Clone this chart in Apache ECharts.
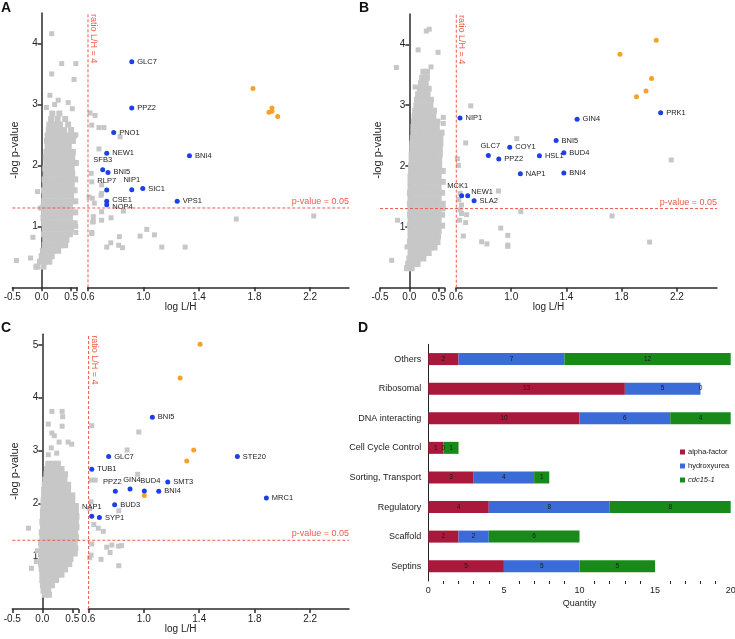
<!DOCTYPE html>
<html><head><meta charset="utf-8">
<script src="https://cdn.jsdelivr.net/npm/echarts@6/dist/echarts.min.js"></script>
<style>html,body{margin:0;padding:0;background:#fff}#c{width:735px;height:639px}</style>
</head><body><div id="c"></div>
<script>
// ---------- reference lines ----------
const P_LINE = -Math.log10(0.05);
const RATIO_LINE = Math.log10(4);

// ---------- tick labels ----------
const xTicksLeft = [-0.5, 0, 0.5];
const xTickMarksLeft = [-0.5, 0, 0.5, 0.6];
const xTicksRight = [0.6, 1.0, 1.4, 1.8, 2.2];

// ---------- Panel A ----------
const blueA = [['GLC7',0.917,3.70],['PPZ2',0.917,2.94],['PNO1',0.787,2.54],['NEW1',0.737,2.20],['BNI4',1.332,2.16],
  ['SFB3',0.708,1.93],['BNI5',0.746,1.885],['RLP7',0.737,1.595],['NIP1',0.917,1.60],['SIC1',0.996,1.62],
  ['VPS1',1.244,1.41],['CSE1',0.737,1.41],['NOP4',0.737,1.355]];
const orangeA = [[1.789,3.26],[1.926,2.94],[1.926,2.89],[1.904,2.87],[1.967,2.80]];
const grayRowsA = [
 [2.85,[0.18,0.3]],[2.76,[0.16,0.27,0.4]],[2.67,[0.13,0.22,0.31,0.45]],[2.58,[0.12,0.2,0.29,0.38,0.5]],
 [2.49,[0.1,0.19,0.28,0.37,0.46,0.55]],[2.40,[0.09,0.18,0.27,0.36,0.45,0.53]],[2.31,[0.1,0.19,0.28,0.37,0.46]],
 [2.22,[0.08,0.17,0.26,0.35,0.44,0.53]],[2.13,[0.07,0.16,0.25,0.34,0.43,0.52]],[2.04,[0.08,0.17,0.26,0.35,0.44,0.53,0.58]],
 [1.95,[0.06,0.15,0.24,0.33,0.42,0.51]],[1.86,[0.07,0.16,0.25,0.34,0.43,0.52]],[1.77,[0.05,0.14,0.23,0.32,0.41,0.5,0.57]],
 [1.68,[0.06,0.15,0.24,0.33,0.42,0.51]],[1.59,[0.04,0.13,0.22,0.31,0.4,0.49,0.56]],[1.50,[0.05,0.14,0.23,0.32,0.41,0.5]],
 [1.41,[0.04,0.13,0.22,0.31,0.4,0.49,0.57]],[1.32,[0.03,0.12,0.21,0.3,0.39,0.48]],[1.23,[0.04,0.13,0.22,0.31,0.4,0.49,0.57]],
 [1.14,[0.03,0.12,0.21,0.3,0.39,0.48]],[1.05,[0.04,0.13,0.22,0.31,0.4,0.49,0.56]],[0.96,[0.05,0.14,0.23,0.32,0.41,0.5]],
 [0.87,[0.04,0.13,0.22,0.31,0.4,0.48]],[0.78,[0.06,0.15,0.24,0.33,0.42]],[0.69,[0.05,0.14,0.23,0.32,0.4]],
 [0.60,[0.02,0.1,0.19,0.28]],[0.51,[0.0,0.08,0.17]],[0.42,[-0.03,0.06,0.13]],[0.34,[-0.08,0.03]]];
const grayExtraA = [[0.17,4.16],[0.34,3.67],[0.58,3.67],[0.17,3.50],[0.55,3.41],[0.14,3.15],[0.28,3.07],[0.45,3.03],
 [0.52,2.93],[0.08,2.95],[0.22,3.0],[-0.07,1.57],[-0.15,0.82],[-0.43,0.44],[-0.19,0.48],[-0.1,0.33],[0.58,1.0],
 [0.58,2.5],[-0.02,1.3],[0.58,0.9],
 [0.617,2.86],[0.653,2.82],[0.629,2.66],[0.681,2.62],[0.717,2.62],[0.681,2.27],[0.833,2.47],[0.625,1.87],[0.629,1.73],
 [0.70,1.68],[0.70,1.54],[0.61,1.48],[0.633,1.46],[0.648,1.38],[0.696,1.51],[0.70,1.24],[0.64,1.16],[0.636,1.07],
 [0.629,0.90],[0.768,1.14],[0.857,1.25],[0.766,0.73],[0.737,0.66],[0.828,0.83],[0.823,0.69],[0.85,0.65],[0.977,0.84],
 [1.025,0.95],[1.08,0.86],[1.133,0.66],[1.301,0.66],[1.669,1.12],[2.226,1.17],[0.70,1.10],[0.64,1.08],[0.63,0.88]];

// ---------- Panel B ----------
const blueB = [['NIP1',0.629,2.79],['GIN4',1.477,2.77],['PRK1',2.082,2.875],['BNI5',1.325,2.42],['COY1',0.989,2.31],
  ['GLC7',0.834,2.175],['PPZ2',0.91,2.115],['HSL1',1.204,2.17],['BUD4',1.381,2.22],['NAP1',1.066,1.875],
  ['BNI4',1.381,1.885],['MCK1',0.641,1.51],['NEW1',0.685,1.51],['SLA2',0.731,1.43]];
const orangeB = [[1.787,3.84],[2.05,4.07],[2.016,3.44],[1.976,3.235],[1.907,3.14]];
const grayRowsB = [
 [3.55,[0.24,0.3]],[3.45,[0.22,0.3]],[3.36,[0.2,0.28]],[3.27,[0.18,0.26,0.33]],[3.18,[0.15,0.23,0.31]],
 [3.09,[0.13,0.21,0.29,0.37]],[3.00,[0.12,0.2,0.28,0.36]],[2.91,[0.1,0.18,0.26,0.34,0.42]],[2.82,[0.09,0.17,0.25,0.33,0.41]],
 [2.73,[0.08,0.16,0.24,0.32,0.4,0.48]],[2.64,[0.07,0.15,0.23,0.31,0.39,0.47]],[2.55,[0.07,0.15,0.23,0.31,0.39,0.47,0.55]],
 [2.46,[0.06,0.14,0.22,0.3,0.38,0.46,0.53]],[2.37,[0.05,0.13,0.21,0.29,0.37,0.45,0.53]],[2.28,[0.05,0.13,0.21,0.29,0.37,0.45,0.52]],
 [2.19,[0.04,0.12,0.2,0.28,0.36,0.44,0.52]],[2.10,[0.04,0.12,0.2,0.28,0.36,0.44,0.51]],[2.01,[0.03,0.11,0.19,0.27,0.35,0.43,0.51]],
 [1.92,[0.03,0.11,0.19,0.27,0.35,0.43,0.5,0.57]],[1.83,[0.02,0.1,0.18,0.26,0.34,0.42,0.5]],
 [1.74,[0.02,0.1,0.18,0.26,0.34,0.42,0.5,0.57]],[1.65,[0.02,0.1,0.18,0.26,0.34,0.42,0.5]],
 [1.56,[0.01,0.09,0.17,0.25,0.33,0.41,0.49,0.56]],[1.47,[0.02,0.1,0.18,0.26,0.34,0.42,0.5]],
 [1.38,[0.01,0.09,0.17,0.25,0.33,0.41,0.49,0.57]],[1.29,[0.02,0.1,0.18,0.26,0.34,0.42,0.5]],
 [1.20,[0.01,0.09,0.17,0.25,0.33,0.41,0.49,0.56]],[1.11,[0.02,0.1,0.18,0.26,0.34,0.42,0.5]],
 [1.02,[0.01,0.09,0.17,0.25,0.33,0.41,0.49,0.56]],[0.93,[0.02,0.1,0.18,0.26,0.34,0.42,0.5]],
 [0.84,[0.02,0.1,0.18,0.26,0.34,0.42,0.49]],[0.75,[0.01,0.09,0.17,0.25,0.33,0.41,0.48]],
 [0.66,[0.03,0.11,0.19,0.27,0.35,0.43]],[0.57,[0.02,0.1,0.18,0.26,0.33]],[0.48,[0.0,0.08,0.16,0.24]],
 [0.39,[-0.02,0.06,0.14]],[0.32,[-0.04,0.04]]];
const grayExtraB = [[0.29,4.22],[0.34,4.25],[0.15,3.91],[0.49,3.87],[-0.22,3.62],[0.37,3.63],[0.31,3.55],[0.1,3.3],
 [-0.2,1.11],[-0.3,0.45],[-0.04,0.67],[0.58,2.8],[0.58,2.7],[0.58,1.3],
 [0.707,2.99],[0.67,2.38],[1.04,2.45],[0.907,1.59],[1.069,1.25],[0.64,1.36],[0.64,1.22],[0.625,1.11],[0.924,0.98],
 [0.653,0.85],[0.67,1.07],[0.786,0.755],[0.824,0.72],[0.975,0.86],[0.975,0.70],[0.975,0.68],[1.73,1.18],[2.002,0.75],
 [2.159,2.10],[0.62,1.45],[0.63,1.55],[0.61,2.12],[0.617,2.01],[0.677,1.2],[0.63,1.28]];

// ---------- Panel C ----------
const blueC = [['BNI5',1.062,3.63],['GLC7',0.747,2.885],['STE20',1.675,2.885],['TUB1',0.625,2.645],['SMT3',1.173,2.405],
  ['PPZ2',0.795,2.23],['GIN4',0.901,2.27],['BUD4',1.004,2.235],['BNI4',1.108,2.23],['MRC1',1.884,2.10],
  ['BUD3',0.79,1.975],['NAP1',0.625,1.755],['SYP1',0.68,1.73]];
const orangeC = [[1.406,5.01],[1.262,4.375],[1.36,3.01],[1.31,2.80],[1.004,2.15]];
const grayRowsC = [
 [2.75,[0.1,0.18,0.26]],[2.65,[0.08,0.16,0.24,0.32]],[2.55,[0.07,0.15,0.23,0.31,0.38]],[2.45,[0.05,0.13,0.21,0.29,0.37]],
 [2.35,[0.04,0.12,0.2,0.28,0.36,0.43]],[2.25,[0.03,0.11,0.19,0.27,0.35,0.43]],[2.15,[0.03,0.11,0.19,0.27,0.35,0.43,0.5]],
 [2.05,[0.02,0.1,0.18,0.26,0.34,0.42,0.5]],[1.95,[0.02,0.1,0.18,0.26,0.34,0.42,0.5,0.56]],
 [1.85,[0.01,0.09,0.17,0.25,0.33,0.41,0.49,0.56]],[1.75,[0.01,0.09,0.17,0.25,0.33,0.41,0.49,0.57]],
 [1.65,[0.0,0.08,0.16,0.24,0.32,0.4,0.48,0.56]],[1.55,[0.01,0.09,0.17,0.25,0.33,0.41,0.49,0.57]],
 [1.45,[-0.01,0.07,0.15,0.23,0.31,0.39,0.47,0.55]],[1.35,[0.0,0.08,0.16,0.24,0.32,0.4,0.48,0.56]],
 [1.25,[-0.02,0.06,0.14,0.22,0.3,0.38,0.46,0.54]],[1.15,[-0.01,0.07,0.15,0.23,0.31,0.39,0.47,0.55]],
 [1.05,[-0.02,0.06,0.14,0.22,0.3,0.38,0.46,0.54]],[0.95,[-0.01,0.07,0.15,0.23,0.31,0.39,0.47]],
 [0.85,[-0.02,0.06,0.14,0.22,0.3,0.38,0.45]],[0.75,[-0.01,0.07,0.15,0.23,0.31,0.38]],
 [0.65,[0.0,0.08,0.16,0.24,0.32]],[0.55,[0.0,0.08,0.16,0.23]],[0.45,[0.01,0.09,0.16]],[0.35,[0.02,0.1]],[0.27,[0.04,0.11]]];
const grayExtraC = [[0.16,3.74],[0.33,3.74],[0.34,3.64],[0.1,3.5],[0.33,3.46],[0.16,3.33],[0.2,3.28],[0.28,3.16],
 [0.43,3.16],[0.49,3.12],[0.1,2.92],[0.15,3.05],[0.24,2.95],[-0.23,1.53],[-0.18,0.77],[-0.1,0.9],[-0.08,1.1],
 [0.625,3.47],[0.964,3.35],[0.88,3.01],[0.956,2.55],[0.62,2.44],[0.65,2.44],[0.62,2.03],[0.82,1.86],[0.708,1.47],
 [0.672,1.53],[0.625,1.23],[0.733,1.17],[0.77,1.21],[0.817,1.19],[0.84,1.2],[0.757,1.07],[0.692,0.94],[0.82,0.82],
 [0.62,1.02],[0.64,1.6],[0.61,0.97],[0.61,1.9]];

// ---------- Panel D ----------
const categoriesD = ['Others','Ribosomal','DNA interacting','Cell Cycle Control','Sorting, Transport','Regulatory','Scaffold','Septins'];
const alphaFactor = [2,13,10,1,3,4,2,5];
const hydroxyurea = [7,5,6,0,4,8,2,5];
const cdc15 = [12,0,4,1,1,8,6,5];
const quantityTicks = [0,5,10,15,20];

// ---------- styles ----------
const FONT = 'Liberation Sans, Arial, sans-serif';
const RED = '#ee5a48';
const GRAY = '#c7c7c7';
const BLUE = '#1d3fe6';
const ORANGE = '#f5a228';
const BAR_COLORS = ['#a8193c', '#3b6bd6', '#178a1a'];
const labelStyles = {
  A: {SFB3:{position:'top'}, RLP7:{position:'top'}, NIP1:{position:'top'}, NOP4:{offset:[0,2]}, CSE1:{offset:[0,-1]}},
  B: {GLC7:{position:'top',offset:[2,0]}, MCK1:{position:'top',offset:[-4,0]}, NEW1:{offset:[-2,-4]}},
  C: {NAP1:{position:'top'}, PPZ2:{position:'top',offset:[-3,0]}, GIN4:{position:'top',offset:[2,0]}, BUD4:{position:'top',offset:[6,0]}}
};

const panels = [
  {key:'A', blue:blueA, orange:orangeA, rows:grayRowsA, extra:grayExtraA, yMax:4.5, xMax:2.48,
   left:{left:12.3, width:64.7}, right:{left:87.7, width:261.3}, top:13, height:274.3, yTicks:[1,2,3,4], yTitle:[15,150]},
  {key:'B', blue:blueB, orange:orangeB, rows:grayRowsB, extra:grayExtraB, yMax:4.5, xMax:2.49,
   left:{left:380, width:64.5}, right:{left:456, width:261}, top:14, height:273.7, yTicks:[1,2,3,4], yTitle:[378,150]},
  {key:'C', blue:blueC, orange:orangeC, rows:grayRowsC, extra:grayExtraC, yMax:5.2, xMax:2.48,
   left:{left:12.3, width:66}, right:{left:88.3, width:260.7}, top:334.3, height:274.7, yTicks:[1,2,3,4,5], yTitle:[15,471]}
];
const X_LEFT_MIN = -0.5, X_LEFT_MAX = 0.6;

const grids = [], xAxes = [], yAxes = [], series = [];
const axisLineStyle = {color:'#2b2b2b', width:1.5};
const labelText = {fontSize:10, color:'#222', fontFamily:FONT};

panels.forEach((p, i) => {
  const L = 2*i, R = 2*i+1;
  grids.push({left:p.left.left, width:p.left.width, top:p.top, height:p.height, outerBoundsMode:'none'});
  grids.push({left:p.right.left, width:p.right.width, top:p.top, height:p.height, outerBoundsMode:'none'});
  xAxes.push({gridIndex:L, type:'value', min:X_LEFT_MIN, max:X_LEFT_MAX, splitLine:{show:false},
    axisLine:{onZero:false, lineStyle:axisLineStyle},
    axisTick:{length:4, customValues:xTickMarksLeft, lineStyle:axisLineStyle},
    axisLabel:Object.assign({customValues:xTicksLeft, margin:5, formatter:v=>v.toFixed(1)}, labelText)});
  xAxes.push({gridIndex:R, type:'value', min:0.6, max:p.xMax, splitLine:{show:false},
    axisLine:{onZero:false, lineStyle:axisLineStyle},
    axisTick:{length:4, customValues:xTicksRight, lineStyle:axisLineStyle},
    axisLabel:Object.assign({customValues:xTicksRight, margin:5, formatter:v=>v.toFixed(1)}, labelText)});
  // y axis sits at x = 0 of the left scale
  const zeroOffset = -p.left.width * (0 - X_LEFT_MIN) / (X_LEFT_MAX - X_LEFT_MIN);
  yAxes.push({gridIndex:L, type:'value', min:0, max:p.yMax, splitLine:{show:false}, position:'left', offset:zeroOffset,
    axisLine:{onZero:false, lineStyle:axisLineStyle},
    axisTick:{length:4, customValues:p.yTicks, lineStyle:axisLineStyle},
    axisLabel:Object.assign({customValues:p.yTicks, margin:4}, labelText)});
  yAxes.push({gridIndex:R, type:'value', min:0, max:p.yMax, show:false});

  const blob = [];
  p.rows.forEach(r => r[1].forEach(x => blob.push([x, r[0]])));
  const grayStyle = {type:'scatter', symbol:'rect', itemStyle:{color:GRAY, opacity:1}, silent:true, z:1};
  series.push(Object.assign({xAxisIndex:L, yAxisIndex:L, data:blob, symbolSize:6}, grayStyle));
  series.push(Object.assign({xAxisIndex:L, yAxisIndex:L, data:p.extra.filter(pt => pt[0] < 0.6), symbolSize:5}, grayStyle));
  series.push(Object.assign({xAxisIndex:R, yAxisIndex:R, data:p.extra.filter(pt => pt[0] >= 0.6), symbolSize:5}, grayStyle));
  series.push({type:'scatter', xAxisIndex:R, yAxisIndex:R, symbol:'circle', symbolSize:5,
    itemStyle:{color:ORANGE, opacity:1}, data:p.orange, z:3, silent:true});
  const ls = labelStyles[p.key];
  series.push({type:'scatter', xAxisIndex:R, yAxisIndex:R, symbol:'circle', symbolSize:5,
    itemStyle:{color:BLUE, opacity:1}, z:4, silent:true,
    label:{show:true, position:'right', distance:3, formatter:'{b}', fontSize:7.5, color:'#222', fontFamily:FONT},
    data:p.blue.map(b => {
      const item = {name:b[0], value:[b[1], b[2]]};
      if (ls[b[0]]) item.label = ls[b[0]];
      return item;
    })});
});

// Panel D
grids.push({left:428.3, width:302.4, top:344.3, height:236.7, outerBoundsMode:'none'});
xAxes.push({gridIndex:6, type:'value', min:0, max:20, interval:5, splitLine:{show:false},
  axisLine:{lineStyle:{color:'#222', width:1}},
  axisTick:{length:4, lineStyle:{color:'#222'}},
  minorTick:{show:true, splitNumber:5, length:3, lineStyle:{color:'#222'}},
  axisLabel:{fontSize:9, color:'#222', margin:5, fontFamily:FONT, customValues:quantityTicks},
  name:'Quantity', nameLocation:'middle', nameGap:18, nameTextStyle:{fontSize:9, color:'#222', fontFamily:FONT}});
yAxes.push({gridIndex:6, type:'category', data:categoriesD, inverse:true,
  axisLine:{lineStyle:{color:'#222', width:1}},
  axisTick:{length:4, lineStyle:{color:'#222'}},
  axisLabel:{fontSize:9, color:'#222', margin:7, fontFamily:FONT}});
const barSeries = [['alpha-factor', alphaFactor], ['hydroxyurea', hydroxyurea], ['cdc15-1', cdc15]];
barSeries.forEach((s, k) => {
  series.push({type:'bar', name:s[0], xAxisIndex:6, yAxisIndex:6, stack:'q', barWidth:12, data:s[1],
    itemStyle:{color:BAR_COLORS[k]}, silent:true,
    label:{show:true, position:'inside', fontSize:6.5, color:'#1a1a1a', fontFamily:FONT, formatter:'{c}'}});
});

const chart = echarts.init(document.getElementById('c'), null, {renderer:'canvas'});
chart.setOption({
  animation:false,
  textStyle:{fontFamily:FONT},
  grid:grids, xAxis:xAxes, yAxis:yAxes, series:series,
  legend:{orient:'vertical', left:675, top:443, itemWidth:5, itemHeight:5, itemGap:6, icon:'rect',
    data:['alpha-factor','hydroxyurea','cdc15-1'],
    formatter:n => n === 'cdc15-1' ? '{i|' + n + '}' : n,
    textStyle:{fontSize:7.5, color:'#222', fontFamily:FONT, padding:[0,0,0,-2], rich:{i:{fontStyle:'italic', fontSize:7.5, color:'#222'}}}}
});

// overlays positioned through the library's scales
const g = [];
const toPx = (gi, pt) => chart.convertToPixel({gridIndex:gi}, pt);
const dash = {stroke:RED, lineWidth:1, lineDash:[3,2]};
panels.forEach((p, i) => {
  const L = 2*i, R = 2*i+1;
  const a = toPx(L, [X_LEFT_MIN, P_LINE]);
  const b = toPx(R, [p.xMax, P_LINE]);
  g.push({type:'line', silent:true, z:10, shape:{x1:a[0], y1:a[1], x2:b[0], y2:b[1]}, style:dash});
  const v0 = toPx(R, [RATIO_LINE, 0]);
  const v1 = toPx(R, [RATIO_LINE, p.yMax]);
  g.push({type:'line', silent:true, z:10, shape:{x1:v0[0], y1:v0[1], x2:v1[0], y2:v1[1]}, style:dash});
  g.push({type:'text', silent:true, z:10, x:b[0], y:b[1]-2,
    style:{text:'p-value = 0.05', fill:RED, fontSize:9, fontFamily:FONT, align:'right', textAlign:'right', verticalAlign:'bottom', textVerticalAlign:'bottom'}});
  g.push({type:'text', silent:true, z:10, x:v1[0]+1, y:v1[1]+1, rotation:-Math.PI/2,
    style:{text:'ratio L/H = 4', fill:RED, fontSize:9, fontFamily:FONT, align:'left', textAlign:'left', verticalAlign:'bottom', textVerticalAlign:'bottom'}});
  const l0 = toPx(L, [X_LEFT_MIN, 0]);
  const r1 = toPx(R, [p.xMax, 0]);
  g.push({type:'text', silent:true, x:(l0[0]+r1[0])/2, y:r1[1]+20,
    style:{text:'log L/H', fill:'#222', fontSize:10, fontFamily:FONT, align:'center', textAlign:'center', verticalAlign:'middle', textVerticalAlign:'middle'}});
  g.push({type:'text', silent:true, x:p.yTitle[0], y:p.yTitle[1], rotation:Math.PI/2,
    style:{text:'-log p-value', fill:'#222', fontSize:11, fontFamily:FONT, align:'center', textAlign:'center', verticalAlign:'middle', textVerticalAlign:'middle'}});
});
[['A',1,1],['B',359,1],['C',1,321],['D',358,321]].forEach(t => {
  g.push({type:'text', silent:true, x:t[1], y:t[2],
    style:{text:t[0], fill:'#111', fontSize:14, fontWeight:'bold', fontFamily:FONT, align:'left', textAlign:'left', verticalAlign:'top', textVerticalAlign:'top'}});
});
chart.setOption({graphic:g});
</script>
</body></html>
